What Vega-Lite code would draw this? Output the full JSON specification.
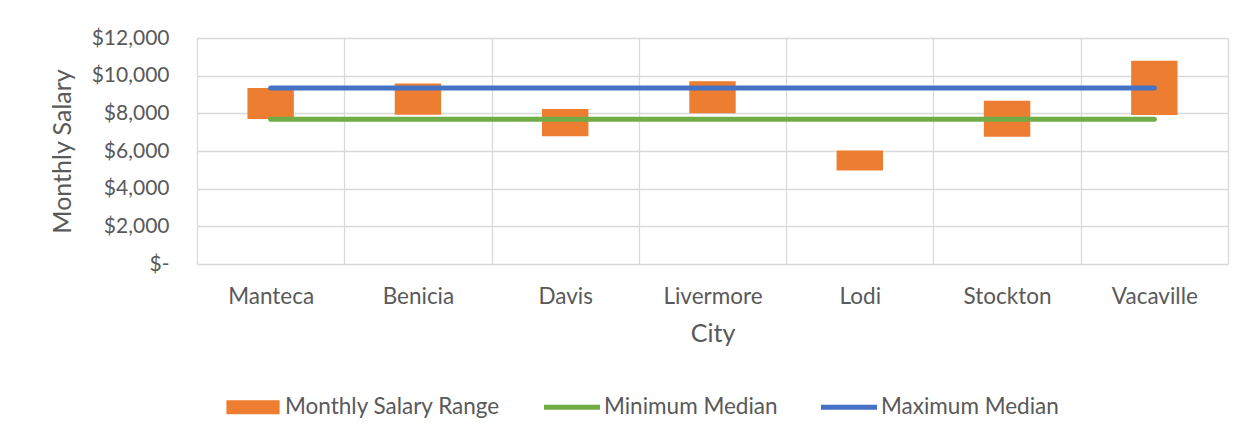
{
  "$schema": "https://vega.github.io/schema/vega-lite/v6.json",
  "width": 1031,
  "height": 226,
  "autosize": {"type": "none"},
  "padding": {"left": 197, "top": 38, "right": 29, "bottom": 174},
  "background": "white",
  "data": {
    "values": [
      {"city": "Manteca", "low": 7700, "high": 9340, "minMedian": 7690, "maxMedian": 9345},
      {"city": "Benicia", "low": 7930, "high": 9590, "minMedian": 7690, "maxMedian": 9345},
      {"city": "Davis", "low": 6780, "high": 8230, "minMedian": 7690, "maxMedian": 9345},
      {"city": "Livermore", "low": 8000, "high": 9700, "minMedian": 7690, "maxMedian": 9345},
      {"city": "Lodi", "low": 4970, "high": 6030, "minMedian": 7690, "maxMedian": 9345},
      {"city": "Stockton", "low": 6760, "high": 8670, "minMedian": 7690, "maxMedian": 9345},
      {"city": "Vacaville", "low": 7910, "high": 10790, "minMedian": 7690, "maxMedian": 9345}
    ]
  },
  "encoding": {
    "x": {
      "field": "city",
      "type": "nominal",
      "sort": null,
      "scale": {"paddingInner": 0, "paddingOuter": 0},
      "axis": {
        "title": "City",
        "labelAngle": 0,
        "labelFontSize": 22.5,
        "tickBand": "extent",
        "grid": true,
        "ticks": false,
        "domain": false,
        "labelPadding": 21,
        "titlePadding": 14
      }
    }
  },
  "layer": [
    {
      "mark": {"type": "bar", "width": {"band": 0.315}},
      "encoding": {
        "y": {
          "field": "low",
          "type": "quantitative",
          "scale": {"domain": [0, 12000]},
          "axis": {
            "title": "Monthly Salary",
            "values": [0, 2000, 4000, 6000, 8000, 10000, 12000],
            "tickCount": 7,
            "labelExpr": "datum.value === 0 ? '$-' : '$' + format(datum.value, ',')",
            "labelOverlap": false,
            "ticks": false,
            "domain": false,
            "grid": true,
            "labelPadding": 28,
            "titlePadding": 16
          }
        },
        "y2": {"field": "high"},
        "color": {
          "datum": "Monthly Salary Range",
          "type": "nominal",
          "scale": {
            "domain": ["Monthly Salary Range", "Minimum Median", "Maximum Median"],
            "range": ["#ED7D31", "#70AD47", "#4472C4"]
          },
          "legend": {
            "title": null,
            "orient": "none",
            "legendX": 28,
            "legendY": 341,
            "direction": "horizontal",
            "symbolSize": 3136,
            "labelOffset": 4,
            "columnPadding": 43,
            "encode": {
              "symbols": {
                "update": {
                  "shape": {"signal": "datum.value === 'Monthly Salary Range' ? 'M-0.95,-0.25H0.95V0.25H-0.95Z' : 'M-1,-0.09H1V0.09H-1Z'"},
                  "fill": {"signal": "scale('color', datum.value)"},
                  "stroke": {"value": "transparent"},
                  "strokeWidth": {"value": 0},
                  "opacity": {"value": 1}
                }
              }
            }
          }
        }
      }
    },
    {
      "mark": {"type": "line", "strokeWidth": 5, "strokeCap": "round"},
      "encoding": {
        "y": {
          "field": "minMedian",
          "type": "quantitative",
          "axis": {
            "title": "Monthly Salary",
            "values": [0, 2000, 4000, 6000, 8000, 10000, 12000],
            "tickCount": 7,
            "labelExpr": "datum.value === 0 ? '$-' : '$' + format(datum.value, ',')",
            "labelOverlap": false,
            "ticks": false,
            "domain": false,
            "grid": true,
            "labelPadding": 28,
            "titlePadding": 16
          }
        },
        "color": {"datum": "Minimum Median", "type": "nominal"}
      }
    },
    {
      "mark": {"type": "line", "strokeWidth": 5, "strokeCap": "round"},
      "encoding": {
        "y": {
          "field": "maxMedian",
          "type": "quantitative",
          "axis": {
            "title": "Monthly Salary",
            "values": [0, 2000, 4000, 6000, 8000, 10000, 12000],
            "tickCount": 7,
            "labelExpr": "datum.value === 0 ? '$-' : '$' + format(datum.value, ',')",
            "labelOverlap": false,
            "ticks": false,
            "domain": false,
            "grid": true,
            "labelPadding": 28,
            "titlePadding": 16
          }
        },
        "color": {"datum": "Maximum Median", "type": "nominal"}
      }
    }
  ],
  "config": {
    "font": "Lato",
    "view": {"stroke": null},
    "axis": {
      "labelFont": "Lato",
      "labelFontSize": 21,
      "labelColor": "#595959",
      "titleFont": "Lato",
      "titleFontSize": 25,
      "titleFontWeight": "normal",
      "titleColor": "#595959",
      "gridColor": "#D9D9D9",
      "gridWidth": 1.3,
      "gridOpacity": 1
    },
    "axisY": {"labelOverlap": false, "labelBound": false},
    "legend": {
      "labelFont": "Lato",
      "labelFontSize": 22.5,
      "labelColor": "#595959",
      "labelLimit": 400
    }
  }
}
